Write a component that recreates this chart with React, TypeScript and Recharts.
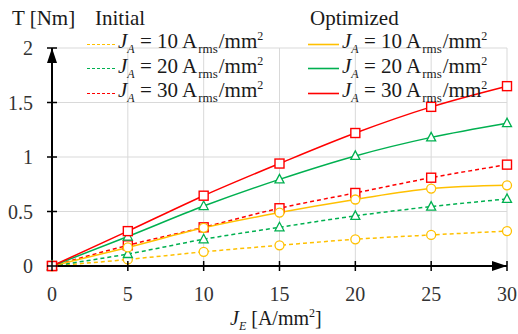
import React from 'react';
import { LineChart, Line, XAxis, YAxis, CartesianGrid, ReferenceDot } from 'recharts';

const je = [0, 5, 10, 15, 20, 25, 30];
const init10 = [0, 0.06, 0.13, 0.19, 0.245, 0.285, 0.32];
const init20 = [0, 0.11, 0.245, 0.355, 0.46, 0.545, 0.615];
const init30 = [0, 0.19, 0.355, 0.53, 0.67, 0.81, 0.93];
const opt10 = [0, 0.17, 0.35, 0.49, 0.61, 0.71, 0.74];
const opt20 = [0, 0.27, 0.55, 0.795, 1.01, 1.18, 1.31];
const opt30 = [0, 0.32, 0.645, 0.94, 1.22, 1.46, 1.65];
const xTicks = [0, 5, 10, 15, 20, 25, 30];
const yTicks = [0, 0.5, 1, 1.5, 2];
const legendValues = [10, 20, 30];

const YELLOW = '#ffc000';
const GREEN = '#00b050';
const RED = '#ff0000';
const FONT = 'Liberation Serif, Times New Roman, DejaVu Serif, serif';
const TEXT = '#1a1a1a';

const data = je.map((x, i) => ({
  x,
  init10: init10[i],
  init20: init20[i],
  init30: init30[i],
  opt10: opt10[i],
  opt20: opt20[i],
  opt30: opt30[i],
}));

const CircleDot = (color: string) => (p: any) => (
  <circle key={`c-${p.index}`} cx={p.cx} cy={p.cy} r={4.5} fill="#fff" stroke={color} strokeWidth={1.3} />
);
const TriDot = (color: string) => (p: any) => (
  <polygon
    key={`t-${p.index}`}
    points={`${p.cx},${p.cy - 5} ${p.cx - 4.5},${p.cy + 3.5} ${p.cx + 4.5},${p.cy + 3.5}`}
    fill="#fff"
    stroke={color}
    strokeWidth={1.3}
  />
);
const SquareDot = (color: string) => (p: any) => (
  <rect key={`s-${p.index}`} x={p.cx - 4.5} y={p.cy - 4.5} width={9} height={9} fill="#fff" stroke={color} strokeWidth={1.4} />
);

const XTick = ({ x, y, payload }: any) => (
  <g>
    <line x1={x} x2={x} y1={y - 5} y2={y + 5} stroke="#000" strokeWidth={1.5} />
    <text x={x} y={y + 35} textAnchor="middle" fontFamily={FONT} style={{ fontFamily: FONT }} fontSize={20} fill="#333">
      {payload.value}
    </text>
  </g>
);

const YTick = ({ x, y, payload }: any) => (
  <g>
    <line x1={x - 5} x2={x + 5} y1={y} y2={y} stroke="#000" strokeWidth={1.5} />
    <text x={x - 19} y={y + 7} textAnchor="end" fontFamily={FONT} style={{ fontFamily: FONT }} fontSize={20} fill="#333">
      {payload.value}
    </text>
  </g>
);

const UpArrow = (p: any) => (
  <polygon points={`${p.cx},${p.cy} ${p.cx - 5},${p.cy + 15} ${p.cx + 5},${p.cy + 15}`} fill="#000" />
);
const RightArrow = (p: any) => (
  <polygon points={`${p.cx},${p.cy} ${p.cx - 15},${p.cy - 5} ${p.cx - 15},${p.cy + 5}`} fill="#000" />
);

const LegendLabel = ({ x, y, v }: { x: number; y: number; v: number }) => (
  <text x={x} y={y} fontSize={21} fill={TEXT} style={{ fontFamily: FONT }}>
    <tspan fontStyle="italic">J</tspan>
    <tspan fontSize={12} fontStyle="italic" dy={5}>A</tspan>
    <tspan dy={-5}>{` = ${v} A`}</tspan>
    <tspan fontSize={13} dy={5} dx={1}>rms</tspan>
    <tspan dy={-5} dx={1}>/mm</tspan>
    <tspan fontSize={12} dy={-8}>2</tspan>
  </text>
);

const legendColors = [YELLOW, GREEN, RED];
const legendLineY = [44.5, 68.5, 93.5];

export default function App() {
  return (
    <div style={{ position: 'absolute', left: 0, top: 0, width: 518, height: 334, background: '#fff', fontFamily: FONT }}>
      <LineChart width={518} height={334} data={data} margin={{ top: 48, right: 11, bottom: 0, left: 0 }}>
        <CartesianGrid stroke="#d9d9d9" strokeWidth={1} />
        <XAxis
          dataKey="x"
          type="number"
          domain={[0, 30]}
          ticks={xTicks}
          height={68}
          tickSize={0}
          tickMargin={0}
          tick={<XTick />}
          axisLine={{ stroke: '#000', strokeWidth: 2 }}
        />
        <YAxis
          type="number"
          domain={[0, 2]}
          ticks={yTicks}
          width={52}
          tickSize={0}
          tickMargin={0}
          tick={<YTick />}
          axisLine={{ stroke: '#000', strokeWidth: 2 }}
        />
        <Line type="monotone" dataKey="init10" stroke={YELLOW} strokeWidth={1.5} strokeDasharray="4 3" dot={CircleDot(YELLOW)} isAnimationActive={false} />
        <Line type="monotone" dataKey="init20" stroke={GREEN} strokeWidth={1.5} strokeDasharray="4 3" dot={TriDot(GREEN)} isAnimationActive={false} />
        <Line type="monotone" dataKey="init30" stroke={RED} strokeWidth={1.5} strokeDasharray="4 3" dot={SquareDot(RED)} isAnimationActive={false} />
        <Line type="monotone" dataKey="opt10" stroke={YELLOW} strokeWidth={1.5} dot={CircleDot(YELLOW)} isAnimationActive={false} />
        <Line type="monotone" dataKey="opt20" stroke={GREEN} strokeWidth={1.5} dot={TriDot(GREEN)} isAnimationActive={false} />
        <Line type="monotone" dataKey="opt30" stroke={RED} strokeWidth={1.5} dot={SquareDot(RED)} isAnimationActive={false} />
        <ReferenceDot x={0} y={2} ifOverflow="visible" shape={UpArrow} />
        <ReferenceDot x={30} y={0} ifOverflow="visible" shape={RightArrow} />
      </LineChart>

      <svg width={518} height={334} style={{ position: 'absolute', left: 0, top: 0, pointerEvents: 'none' }}>
        <g style={{ fontFamily: FONT }} fill={TEXT} fontSize={21}>
          <text x={12} y={25}>T [Nm]</text>
          <text x={95} y={25}>Initial</text>
          <text x={310} y={25}>Optimized</text>
        </g>
        {legendValues.map((v, i) => (
          <g key={v}>
            <line x1={87} x2={117} y1={legendLineY[i]} y2={legendLineY[i]} stroke={legendColors[i]} strokeWidth={1} strokeDasharray="3 2" />
            <LegendLabel x={118} y={48 + i * 24.5} v={v} />
            <line x1={308} x2={339} y1={legendLineY[i]} y2={legendLineY[i]} stroke={legendColors[i]} strokeWidth={1.6} />
            <LegendLabel x={342} y={48 + i * 24.5} v={v} />
          </g>
        ))}
        <text x={230} y={325} fontSize={20} fill={TEXT} style={{ fontFamily: FONT }}>
          <tspan fontStyle="italic">J</tspan>
          <tspan fontSize={12} fontStyle="italic" dy={5}>E</tspan>
          <tspan dy={-5}> [A/mm</tspan>
          <tspan fontSize={12} dy={-8}>2</tspan>
          <tspan dy={8}>]</tspan>
        </text>
      </svg>
    </div>
  );
}
